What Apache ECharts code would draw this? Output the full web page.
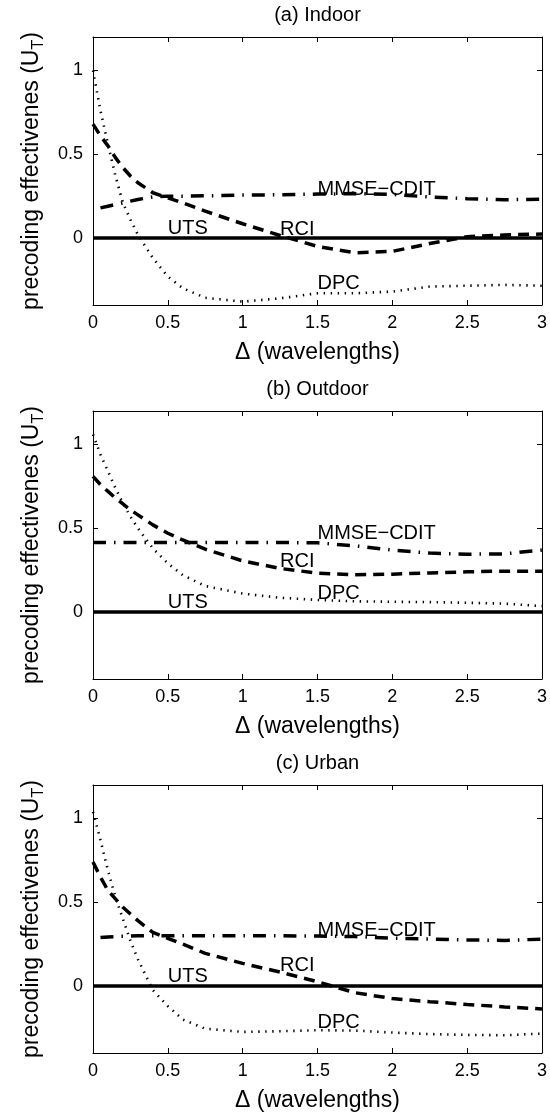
<!DOCTYPE html>
<html><head><meta charset="utf-8">
<script src="https://cdn.jsdelivr.net/npm/echarts@6/dist/echarts.min.js"></script>
<style>html,body{margin:0;padding:0;background:#fff}#c{width:550px;height:1116px}</style>
</head><body><div id="c"></div>
<script>
// ---------- data ----------
const xGrid = [0, 0.05, 0.1, 0.15, 0.2, 0.25, 0.3, 0.4, 0.5, 0.6, 0.75, 1.0, 1.25, 1.5, 1.75, 2.0, 2.25, 2.5, 2.75, 3.0];
const panelTitles = ['(a) Indoor', '(b) Outdoor', '(c) Urban'];
const seriesNames = ['UTS', 'RCI', 'MMSE\u2212CDIT', 'DPC'];
const yTickValues = [0, 0.5, 1];

const indoorUTS  = [0, 0, 0, 0, 0, 0, 0, 0, 0, 0, 0, 0, 0, 0, 0, 0, 0, 0, 0, 0];
const indoorRCI  = [0.68, 0.61, 0.55, 0.48, 0.42, 0.37, 0.33, 0.27, 0.24, 0.21, 0.16, 0.085, 0.015, -0.05, -0.088, -0.08, -0.033, 0.008, 0.018, 0.024];
const indoorMMSE = [null, 0.18, 0.19, 0.20, 0.21, 0.22, 0.23, 0.245, 0.25, 0.25, 0.252, 0.256, 0.258, 0.262, 0.265, 0.26, 0.245, 0.235, 0.228, 0.232];
const indoorDPC  = [1.0, 0.76, 0.56, 0.37, 0.21, 0.11, 0.02, -0.12, -0.23, -0.30, -0.357, -0.38, -0.36, -0.33, -0.33, -0.32, -0.29, -0.285, -0.28, -0.285];

const outdoorUTS  = [0, 0, 0, 0, 0, 0, 0, 0, 0, 0, 0, 0, 0, 0, 0, 0, 0, 0, 0, 0];
const outdoorRCI  = [0.81, 0.76, 0.72, 0.68, 0.645, 0.61, 0.58, 0.52, 0.47, 0.43, 0.375, 0.305, 0.26, 0.232, 0.222, 0.226, 0.233, 0.24, 0.244, 0.244];
const outdoorMMSE = [0.415, 0.415, 0.415, 0.415, 0.415, 0.415, 0.415, 0.415, 0.415, 0.415, 0.415, 0.415, 0.415, 0.413, 0.395, 0.37, 0.352, 0.345, 0.347, 0.37];
const outdoorDPC  = [1.06, 0.94, 0.84, 0.74, 0.65, 0.57, 0.5, 0.38, 0.29, 0.22, 0.155, 0.11, 0.085, 0.072, 0.064, 0.061, 0.059, 0.055, 0.05, 0.035];

const urbanUTS  = [0, 0, 0, 0, 0, 0, 0, 0, 0, 0, 0, 0, 0, 0, 0, 0, 0, 0, 0, 0];
const urbanRCI  = [0.74, 0.65, 0.57, 0.52, 0.47, 0.43, 0.39, 0.32, 0.285, 0.25, 0.195, 0.135, 0.083, 0.025, -0.04, -0.075, -0.094, -0.11, -0.125, -0.137];
const urbanMMSE = [null, 0.29, 0.293, 0.295, 0.297, 0.298, 0.30, 0.30, 0.30, 0.30, 0.30, 0.30, 0.30, 0.298, 0.295, 0.286, 0.28, 0.275, 0.272, 0.28];
const urbanDPC  = [1.04, 0.87, 0.69, 0.53, 0.40, 0.27, 0.16, -0.025, -0.12, -0.2, -0.255, -0.274, -0.27, -0.264, -0.266, -0.278, -0.287, -0.292, -0.294, -0.284];

// annotation anchor points (data coordinates), order = seriesNames
const labelX        = [0.5, 1.25, 1.5, 1.5];
const indoorLabelY  = [0.055, 0.05, 0.29, -0.27];
const outdoorLabelY = [0.055, 0.30, 0.47, 0.113];
const urbanLabelY   = [0.055, 0.12, 0.33, -0.22];

// ---------- chart ----------
const FONT = '"Liberation Sans", Arial, Helvetica, sans-serif';
const panels = [
  { title: panelTitles[0], data: [indoorUTS, indoorRCI, indoorMMSE, indoorDPC], ly: indoorLabelY },
  { title: panelTitles[1], data: [outdoorUTS, outdoorRCI, outdoorMMSE, outdoorDPC], ly: outdoorLabelY },
  { title: panelTitles[2], data: [urbanUTS, urbanRCI, urbanMMSE, urbanDPC], ly: urbanLabelY }
];
const gridTops = [37, 411, 785];
const lineStyles = [
  { width: 3.5, type: 'solid' },
  { width: 3.5, type: [11, 7] },
  { width: 3.5, type: [13, 8, 1.5, 8] },
  { width: 2.6, type: [1.4, 5.6] }
];

const option = { animation: false, backgroundColor: '#fff', grid: [], xAxis: [], yAxis: [], series: [], graphic: [] };
const axLine = { show: true, onZero: false, lineStyle: { color: '#000', width: 1 } };
const tick = (extra) => Object.assign({ show: true, inside: true, length: 5, lineStyle: { color: '#000', width: 1 } }, extra || {});

panels.forEach((p, i) => {
  option.grid.push({ left: 93, width: 449, top: gridTops[i], height: 268 });
  option.xAxis.push({
    type: 'value', gridIndex: i, min: 0, max: 3, interval: 0.5, position: 'bottom',
    axisLine: axLine, axisTick: tick(), splitLine: { show: false },
    axisLabel: { color: '#000', fontSize: 18, fontFamily: FONT, margin: 9 },
    name: '\u0394 (wavelengths)', nameLocation: 'middle', nameGap: 36,
    nameTextStyle: { color: '#000', fontSize: 23, fontFamily: FONT }
  });
  option.xAxis.push({
    type: 'value', gridIndex: i, min: 0, max: 3, interval: 0.5, position: 'top',
    axisLine: axLine, axisTick: tick(), axisLabel: { show: false }, splitLine: { show: false }
  });
  option.yAxis.push({
    type: 'value', gridIndex: i, min: -0.4, max: 1.2, interval: 0.4, position: 'left',
    axisLine: axLine, axisTick: tick({ customValues: yTickValues }), splitLine: { show: false },
    axisLabel: { customValues: yTickValues, color: '#000', fontSize: 18, fontFamily: FONT, margin: 10 },
    name: 'precoding effectivenes (U{s|T})', nameLocation: 'middle', nameGap: 46,
    nameTextStyle: { color: '#000', fontSize: 23, fontFamily: FONT,
      rich: { s: { color: '#000', fontSize: 16, fontFamily: FONT, padding: [14, 0, 0, 0] } } }
  });
  option.yAxis.push({
    type: 'value', gridIndex: i, min: -0.4, max: 1.2, interval: 0.4, position: 'right',
    axisLine: axLine, axisTick: tick({ customValues: yTickValues }), axisLabel: { show: false }, splitLine: { show: false }
  });
  p.data.forEach((vals, k) => {
    option.series.push({
      type: 'line', name: seriesNames[k], xAxisIndex: 2 * i, yAxisIndex: 2 * i,
      data: xGrid.map((x, j) => [x, vals[j]]),
      symbol: 'none', showSymbol: false, clip: true, silent: true,
      lineStyle: Object.assign({ color: '#000', cap: 'butt' }, lineStyles[k]),
      z: k === 0 ? 3 : 2
    });
  });
  option.series.push({
    type: 'scatter', xAxisIndex: 2 * i, yAxisIndex: 2 * i, symbolSize: 0, silent: true, z: 5,
    itemStyle: { opacity: 1, color: '#000' },
    data: seriesNames.map((n, k) => ({ value: [labelX[k], p.ly[k]], name: n })),
    label: { show: true, position: 'right', distance: 0, formatter: '{b}', color: '#000', opacity: 1, fontSize: 20, fontFamily: FONT }
  });
  option.graphic.push({
    type: 'text', x: 317.5, y: gridTops[i] - 22, silent: true,
    style: { text: p.title, fill: '#000', fontSize: 20, fontFamily: FONT, align: 'center', verticalAlign: 'middle' }
  });
});

const chart = echarts.init(document.getElementById('c'), null, { renderer: 'canvas' });
chart.setOption(option);
</script>
</body></html>
